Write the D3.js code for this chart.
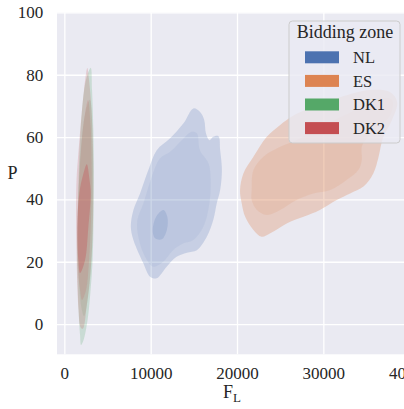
<!DOCTYPE html>
<html>
<head>
<script src="https://d3js.org/d3.v7.min.js"></script>
<style>
  body { margin: 0; background: #fff; }
  svg text { font-family: "Liberation Serif", "Times New Roman", serif; fill: #262626; }
  .tick text { font-size: 17px; }
  .grid line { stroke: #fff; stroke-width: 1.3; }
  .grid .domain { display: none; }
</style>
</head>
<body>
<svg width="404" height="409"></svg>
<script>
// zone names in hue order
var zones = ["NL", "ES", "DK1", "DK2"];

var xTicks = [0, 10000, 20000, 30000, 40000];
var yTicks = [0, 20, 40, 60, 80, 100];

// density contour outlines, [F_L, P]
var nlOuter = [[14950,69.2],[15700,68.1],[16200,65.5],[16400,61.2],[16800,59.0],[17250,60.1],[17850,60.3],
  [18050,55.8],[18250,49.4],[18050,43.0],[17650,38.7],[17250,33.4],[16500,28.0],[15350,23.7],[14200,22.9],
  [13000,21.6],[11850,18.4],[10700,14.7],[9930,15.2],[9150,19.5],[8000,27.0],[7700,31.2],[8000,36.6],
  [8770,41.9],[9730,49.4],[10700,55.8],[12250,59.6],[13800,64.4]];
var nlMid = [[14750,61.7],[15350,61.2],[15700,55.8],[16700,51.6],[16950,46.2],[16800,38.7],[16100,31.2],
  [14950,27.0],[13800,25.9],[12600,23.7],[11450,20.0],[10300,18.4],[9350,21.6],[8570,28.0],[8460,33.4],
  [9150,38.7],[10130,47.3],[11090,53.2],[12250,55.3],[13600,59.0]];
var nlInner = [[11470,36.6],[11930,34.4],[11870,30.2],[11290,27.2],[10510,27.5],[10240,30.2],[10630,34.4]];

var esOuter = [[20350,43.0],[20750,48.4],[21900,53.7],[23450,60.1],[25000,63.9],[26400,66.7],[28450,69.3],
  [31950,72.8],[35400,75.1],[37750,74.4],[38550,71.2],[37950,65.5],[36900,59.7],[36400,53.7],[35800,48.4],
  [34650,44.1],[33100,41.9],[31550,39.8],[29600,36.6],[27700,34.4],[25750,32.3],[23850,29.1],[22850,28.0],
  [21900,30.2],[20950,34.4],[20550,38.7]];
var esMid = [[21700,43.0],[21900,49.4],[23050,53.7],[25000,56.9],[26900,59.0],[29050,62.3],[31350,65.5],
  [34250,69.3],[36800,72.5],[37950,71.9],[37750,67.1],[36000,62.3],[34500,57.4],[34450,52.6],[34050,49.4],
  [32700,46.2],[30800,43.0],[28850,41.9],[26900,39.8],[25000,36.6],[23450,35.0],[22300,36.6],[21700,39.8]];

var dk1Outer = [[3060,82.2],[3210,75.1],[3360,62.3],[3420,46.2],[3380,33.4],[3270,20.5],[3040,10.9],
  [2690,1.3],[2230,-5.1],[1935,-6.7],[1820,-3.5],[1645,4.5],[1530,14.1],[1470,27.0],[1590,39.8],
  [1760,55.8],[2050,68.7],[2510,78.3]];
var dk1Mid = [[2950,72.0],[3300,55.8],[3300,36.6],[3150,20.5],[2700,7.7],[2283,2.5],[1950,5.7],
  [1650,17.5],[1600,36.6],[1900,55.8],[2450,68.0]];
var dk2Outer = [[2665,82.2],[2860,78.3],[3150,68.7],[3330,55.8],[3360,39.8],[3250,27.0],[3000,15.7],
  [2600,6.1],[2150,-1.5],[1880,-1.0],[1645,4.5],[1500,12.5],[1410,23.7],[1356,33.4],[1410,46.2],
  [1645,55.6],[1935,65.3],[2280,75.1]];
var dk2Mid = [[2746,71.9],[3036,63.9],[3160,49.4],[3080,33.4],[2862,20.5],[2514,10.9],[2051,7.7],
  [1819,10.9],[1587,17.3],[1500,27.0],[1600,38.6],[1900,54.6],[2283,65.5]];
var dk2Inner = [[2600,51.3],[2920,46.2],[3059,42.0],[2781,31.1],[2398,20.5],[1819,16.4],[1622,20.5],
  [1506,31.1],[1738,42.0],[2167,47.8]];

var color = d3.scaleOrdinal(zones, ["#4c72b0", "#dd8452", "#55a868", "#c44e52"]);

var svg = d3.select("svg");
var mLeft = 57, mTop = 12.4, mRight = 414, mBottom = 354.3;

var x = d3.scaleLinear().domain([-850, 40500]).range([mLeft, mRight]);
var y = d3.scaleLinear().domain([-9.7, 100]).range([mBottom, mTop]);

svg.append("rect")
  .attr("x", mLeft).attr("y", mTop)
  .attr("width", mRight - mLeft).attr("height", mBottom - mTop)
  .attr("fill", "#eaeaf2");

// grid
svg.append("g").attr("class", "grid")
  .attr("transform", "translate(0," + mBottom + ")")
  .call(d3.axisBottom(x).tickValues(xTicks).tickSize(-(mBottom - mTop)).tickFormat(""));
svg.append("g").attr("class", "grid")
  .attr("transform", "translate(" + mLeft + ",0)")
  .call(d3.axisLeft(y).tickValues(yTicks).tickSize(-(mRight - mLeft)).tickFormat(""));

var line = d3.line()
  .x(function(d) { return x(d[0]); })
  .y(function(d) { return y(d[1]); })
  .curve(d3.curveCatmullRomClosed.alpha(0.5));

var layers = [
  { zone: "NL", pts: nlOuter, op: 0.22 },
  { zone: "NL", pts: nlMid, op: 0.08 },
  { zone: "NL", pts: nlInner, op: 0.18 },
  { zone: "ES", pts: esOuter, op: 0.3 },
  { zone: "ES", pts: esMid, op: 0.14 },
  { zone: "DK1", pts: dk1Outer, op: 0.22 },
  { zone: "DK1", pts: dk1Mid, op: 0.14 },
  { zone: "DK2", pts: dk2Outer, op: 0.2 },
  { zone: "DK2", pts: dk2Mid, op: 0.16 },
  { zone: "DK2", pts: dk2Inner, op: 0.34 }
];

svg.append("g").selectAll("path")
  .data(layers)
  .enter().append("path")
  .attr("d", function(d) { return line(d.pts); })
  .attr("fill", function(d) { return color(d.zone); })
  .attr("fill-opacity", function(d) { return d.op; });

// axes
var xAxis = svg.append("g")
  .attr("transform", "translate(0," + mBottom + ")")
  .call(d3.axisBottom(x).tickValues(xTicks).tickSize(0).tickPadding(13).tickFormat(d3.format("d")));
xAxis.select(".domain").remove();

var yAxis = svg.append("g")
  .attr("transform", "translate(" + mLeft + ",0)")
  .call(d3.axisLeft(y).tickValues(yTicks).tickSize(0).tickPadding(13.7));
yAxis.select(".domain").remove();

xAxis.attr("font-family", null).attr("font-size", null);
yAxis.attr("font-family", null).attr("font-size", null);
svg.selectAll(".tick text").attr("fill", null);

var xl = svg.append("text")
  .attr("x", 232).attr("y", 398)
  .attr("text-anchor", "middle")
  .style("font-size", "18px");
xl.append("tspan").text("F");
xl.append("tspan").attr("dy", 4).style("font-size", "13px").text("L");

svg.append("text")
  .attr("x", 12.5).attr("y", 179)
  .attr("text-anchor", "middle")
  .style("font-size", "18px")
  .text("P");

// legend
var lg = svg.append("g");
lg.append("rect")
  .attr("x", 289).attr("y", 21).attr("width", 111).attr("height", 122)
  .attr("rx", 3.5)
  .attr("fill", "#eaeaf2").attr("fill-opacity", 0.8)
  .attr("stroke", "#cccccc").attr("stroke-width", 1);
lg.append("text")
  .attr("x", 345).attr("y", 38)
  .attr("text-anchor", "middle")
  .style("font-size", "18px")
  .text("Bidding zone");

var item = lg.selectAll(".item")
  .data(zones)
  .enter().append("g")
  .attr("class", "item")
  .attr("transform", function(d, i) { return "translate(0," + (57.3 + i * 23.6) + ")"; });
item.append("rect")
  .attr("x", 305).attr("y", -6).attr("width", 34).attr("height", 12)
  .attr("fill", function(d) { return color(d); });
item.append("text")
  .attr("x", 353).attr("y", 5.6)
  .style("font-size", "16.5px")
  .text(function(d) { return d; });
</script>
</body>
</html>
